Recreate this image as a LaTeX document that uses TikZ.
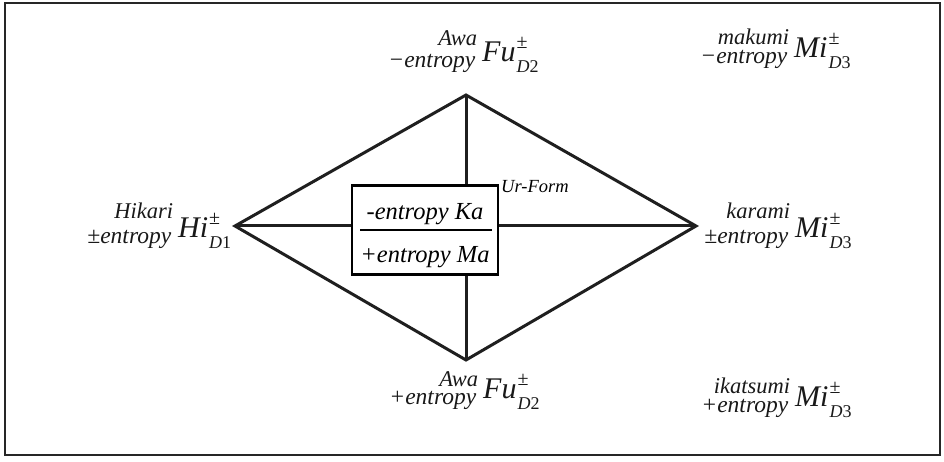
\documentclass[tikz,border=0pt]{standalone}
\usepackage{fontspec}
\setmainfont{Liberation Serif}[ItalicFont=Liberation Serif Italic]
\newfontfamily\tms{Liberation Serif}[ItalicFont=Liberation Serif Italic]
\newcommand\fsz[1]{\tms\fontsize{#1}{#1}\selectfont\itshape}
\newcommand\lbl[6]{{%
\llap{\raisebox{#6pt}{\fsz{22.5}#1}\kern5pt}%
\llap{\raisebox{-6pt}{\fsz{23.5}#2}\kern7pt}%
{\fsz{30}#3\/}\kern1pt\rlap{\raisebox{13pt}{\fsz{20}\upshape ±}}\raisebox{-11pt}{\fsz{18}#4\upshape #5}}}
\tikzset{
  ln/.style={line width=3pt, draw=black!88},
  lab/.style={anchor=base west, inner sep=0pt, text=black!90},
}
\begin{document}
\begin{tikzpicture}[x=1pt,y=-1pt]
\useasboundingbox (0,0) rectangle (944,462);
\draw[line width=2.2pt, draw=black!85] (5,3) rectangle (940,455);
\coordinate (T) at (466,95);
\coordinate (L) at (235,226);
\coordinate (R) at (696,226);
\coordinate (B) at (466,360);
\node[draw=black, line width=2.6pt, minimum width=146pt, minimum height=89pt, inner sep=0pt] (box) at (425,230) {};
\draw[ln] (T) -- (R) -- (B) -- (L) -- cycle;
\draw[ln] (L) -- (box.west|-L);
\draw[ln] (box.east|-R) -- (R);
\draw[ln] (T) -- (T|-box.north);
\draw[ln] (B|-box.south) -- (B);
\draw[line width=2.6pt] ([xshift=-65pt]box.center) coordinate (barl) -- ([xshift=67pt]box.center) coordinate (barr);
\node[inner sep=0pt, anchor=base, font=\fsz{24.5}] (ka) at (425,220) {-entropy Ka};
\node[inner sep=0pt, anchor=base, font=\fsz{24.5}] (ma) at (425,262) {+entropy Ma};
\node[inner sep=0pt, anchor=base west, font=\fsz{18.5}] (ur) at (501,193) {Ur-Form};
\node[lab] (hi) at (178,237) {\lbl{Hikari}{±entropy}{Hi}{D}{1}{19}};
\node[lab] (fut) at (482,62) {\lbl{Awa}{−entropy}{Fu}{D}{2}{16}};
\node[lab] (fub) at (483,398) {\lbl{Awa}{+entropy}{Fu}{D}{2}{12}};
\node[lab] (mit) at (794,58) {\lbl{makumi}{−entropy}{Mi}{D}{3}{13}};
\node[lab] (mim) at (795,237) {\lbl{karami}{±entropy}{Mi}{D}{3}{19}};
\node[lab] (mib) at (795,406) {\lbl{ikatsumi}{+entropy}{Mi}{D}{3}{13}};
\end{tikzpicture}
\end{document}
